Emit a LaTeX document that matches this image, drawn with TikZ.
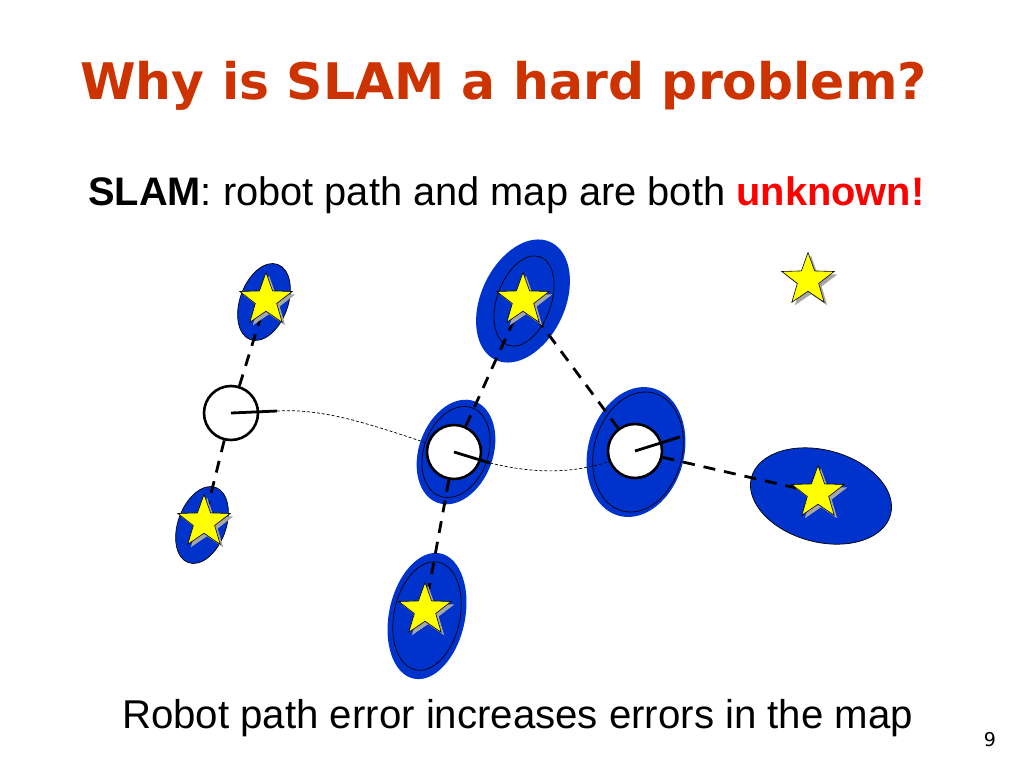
\documentclass[tikz,border=0pt]{standalone}
\usepackage{fontspec}
\setmainfont{Liberation Sans}
\newfontfamily\titlefont{DejaVu Sans}
\usetikzlibrary{shapes.geometric,shadows}
\definecolor{titlered}{RGB}{204,51,0}
\definecolor{ellblue}{RGB}{0,51,204}
\definecolor{unkred}{RGB}{255,0,0}
\definecolor{staryellow}{RGB}{255,255,0}
\begin{document}
\begin{tikzpicture}[x=1pt,y=-1pt,
  covar/.style={fill=ellblue},
  covarline/.style={draw=black, line width=0.7pt},
  robot/.style={circle, draw=black, fill=white, line width=2.6pt, minimum size=54pt, inner sep=0pt},
  heading/.style={line width=2.8pt},
  sensor/.style={line width=2.8pt, dash pattern=on 12pt off 9pt},
  trajectory/.style={line width=0.7pt, dash pattern=on 3pt off 2pt},
  landmark/.style={star, star points=5, star point ratio=2.45, minimum size=55pt, inner sep=0pt,
    fill=staryellow, draw=black, line width=0.6pt,
    drop shadow={shadow xshift=3pt, shadow yshift=-3pt, fill=black!35, opacity=1}}
]
\useasboundingbox (0,0) rectangle (1024,768);

% texts
\node[anchor=base west, inner sep=0pt, text=titlered,
  font=\titlefont\bfseries\fontsize{50.4}{60}\selectfont] (title) at (80,99) {Why is SLAM a hard problem?};
\node[anchor=base west, inner sep=0pt, font=\fontsize{39.8}{48}\selectfont] (sub) at (88,205)
  {\textbf{SLAM}: robot path and map are both \textcolor{unkred}{\textbf{unknown!}}};
\node[anchor=base west, inner sep=0pt, font=\fontsize{40.2}{48}\selectfont] (caption) at (122,728)
  {Robot path error increases errors in the map};
\node[anchor=base, inner sep=0pt, font=\titlefont\fontsize{19}{22}\selectfont] (page) at (990,746) {9};

% landmark positions
\coordinate (Ltl) at (266,300);
\coordinate (Lbl) at (204,522);
\coordinate (Ltop) at (523,300);
\coordinate (Lbm) at (425,610);
\coordinate (Lr) at (818,493);
\coordinate (Llone) at (808,280);

% covariance ellipses
\fill[covar, rotate around={-20:(264,302)}] (264,302) ellipse (24 and 40);
\draw[covarline, rotate around={-20:(264,302)}] (264,302) ellipse (24 and 40);
\fill[covar, rotate around={-20:(202,525)}] (202,525) ellipse (24 and 40);
\draw[covarline, rotate around={-20:(202,525)}] (202,525) ellipse (24 and 40);
\fill[covar, rotate around={-25:(523,301)}] (523,301) ellipse (42 and 65);
\draw[covarline, rotate around={-20:(524,301)}] (524,301) ellipse (27 and 47);
\fill[covar, rotate around={-20:(456,452)}] (456,452) ellipse (37 and 54);
\draw[covarline, rotate around={-20:(456,452)}] (456,452) ellipse (32 and 47);
\fill[covar, rotate around={-15:(636,452)}] (636,452) ellipse (48 and 66);
\draw[covarline, rotate around={-15:(638,452)}] (638,452) ellipse (44 and 61);
\fill[covar, rotate around={-15:(821,496)}] (821,496) ellipse (72 and 46);
\draw[covarline, rotate around={-15:(821,496)}] (821,496) ellipse (72 and 46);
\fill[covar, rotate around={-12:(427,616)}] (427,616) ellipse (38 and 64);
\draw[covarline, rotate around={-12:(427,616)}] (427,616) ellipse (33 and 55);

% robot poses
\coordinate (r1c) at (231,413);
\coordinate (r2c) at (454,452);
\coordinate (r3c) at (635,451);
\coordinate (h1) at (277,411);
\coordinate (h2) at (490,463);
\coordinate (h3) at (680,437);

% trajectory
\draw[trajectory] (h1) .. controls (330,408) and (380,428) .. (r2c);
\draw[trajectory] (h2) .. controls (540,475) and (585,475) .. (r3c);

\node[robot] (r1) at (r1c) {};
\node[robot] (r2) at (r2c) {};
\node[robot] (r3) at (r3c) {};

% observations
\draw[sensor] (r1) -- (Ltl);
\draw[sensor] (r1) -- (Lbl);
\draw[sensor] (r2) -- (Ltop);
\draw[sensor] (r2) -- (Lbm);
\draw[sensor] (r3) -- (Ltop);
\draw[sensor] (r3) -- (Lr);

% headings
\draw[heading] (r1.center) -- (h1);
\draw[heading] (r2.center) -- (h2);
\draw[heading] (r3.center) -- (h3);

% landmarks
\node[landmark] (s1) at (Ltl) {};
\node[landmark] (s2) at (Lbl) {};
\node[landmark] (s3) at (Ltop) {};
\node[landmark] (s4) at (Lbm) {};
\node[landmark] (s5) at (Lr) {};
\node[landmark] (s6) at (Llone) {};
\end{tikzpicture}
\end{document}
